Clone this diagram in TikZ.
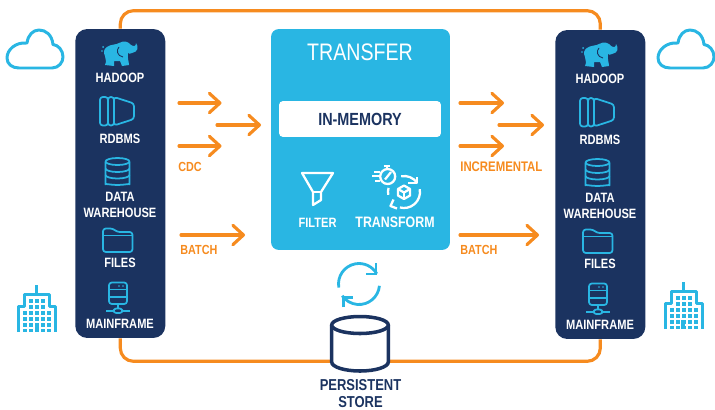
\documentclass[tikz,border=0pt]{standalone}
\usepackage{fontspec}
\setmainfont{Liberation Sans}[FakeStretch=0.82]
\usetikzlibrary{arrows.meta,positioning,calc}

\definecolor{flowOrange}{HTML}{F68B1F}
\definecolor{skyBlue}{HTML}{29B6E3}
\definecolor{panelNavy}{HTML}{1B3360}

\tikzset{
        panelbox/.style={fill=panelNavy,rounded corners=6.8pt,minimum width=1.8cm,minimum height=6.18cm,inner sep=0pt},
        collabel/.style={anchor=base,inner sep=0pt,text=white,font=\bfseries\fontsize{7.7}{8}\selectfont},
        flowlabel/.style={anchor=base west,inner sep=0pt,text=flowOrange,font=\bfseries\fontsize{7.5}{8}\selectfont},
        storelabel/.style={anchor=base,inner sep=0pt,text=panelNavy,font=\bfseries\fontsize{9}{10}\selectfont},
        flowarrow/.style={draw=flowOrange,line width=1.8pt,line cap=round,-{Straight Barb[length=6pt,width=11pt,round]}},
        looppath/.style={draw=flowOrange,line width=1.8pt,rounded corners=7.5pt},
        iconline/.style={draw=skyBlue,line width=1pt,line join=round,rounded corners=1.6pt},
        whiteline/.style={draw=white,line width=1.3pt,line join=round},
        sideline/.style={draw=skyBlue,line width=1.7pt,line join=round},
        syncline/.style={draw=skyBlue,line width=1.6pt}
}

\begin{document}
\begin{tikzpicture}[x=0.02cm,y=-0.02cm]
        \useasboundingbox (0,0) rectangle (715,409);

        % source and target columns
        \foreach \side/\dx/\dy in {l/0/0,r/480/1}{
                \begin{scope}[shift={(\dx,\dy)}]
                        \draw (120.3,183.5) node[panelbox] (panel\side) {};

                        % elephant
                        \fill[skyBlue] (107,47) .. controls (111,44) and (116,45) .. (119,43)
                                .. controls (124,40) and (129,42) .. (131,45) .. controls (134,47) and (136,46) .. (136,43)
                                .. controls (139,47) and (138,52) .. (132,53) .. controls (130,54) and (129,54) .. (128,53)
                                .. controls (127,57) and (129,62) .. (129,65) -- (122,66) -- (120,61) -- (114,61)
                                -- (114,66) -- (105,65) .. controls (107,61) and (105,59) .. (105,56)
                                .. controls (103,52) and (104,49) .. (107,47) -- cycle;
                        \draw[panelNavy,line width=.5pt] (119,47) .. controls (116,50) and (117,56) .. (123,57);
                        \fill[skyBlue] (103,47) circle (1) (102,51) circle (.8);
                        \draw (120,82.7) node[collabel] (hadoop\side) {HADOOP};

                        % rdbms
                        \draw[iconline] (100,97) rectangle (108,125.5);
                        \draw[iconline] (108,97) rectangle (114,125.5);
                        \draw[iconline] (114,97) -- (134,103.5) -- (134,119) -- (114,125.5) -- cycle;
                        \draw (120,143) node[collabel] (rdbms\side) {RDBMS};

                        % warehouse drum
                        \draw[iconline] (117.5,161.5) ellipse (12 and 3.5);
                        \draw[iconline] (105.5,161.5) -- (105.5,181.5) arc[start angle=180,end angle=0,x radius=12,y radius=3.5] -- (129.5,161.5);
                        \foreach \drumy in {168.5,175}{
                                \draw[iconline] (105.5,\drumy) arc[start angle=180,end angle=0,x radius=12,y radius=3.5];
                        }
                        \draw (120,201.7) node[collabel] (data\side) {DATA};
                        \draw (120,217.7) node[collabel] (warehouse\side) {WAREHOUSE};

                        % folder
                        \draw[iconline] (103,252) -- (103,228.5) -- (113,228.5) -- (117,232) -- (132.5,232) -- (132.5,252) -- cycle;
                        \draw[iconline] (103,235.5) -- (132.5,235.5);
                        \draw (120,267.7) node[collabel] (files\side) {FILES};

                        % server
                        \draw[iconline] (109,282.5) rectangle (127,304);
                        \draw[iconline] (109,289.5) -- (127,289.5);
                        \draw[iconline] (109,297) -- (127,297);
                        \fill[skyBlue] (119,286) circle (.9) (123,286) circle (.9);
                        \draw[iconline] (118,304) -- (118,308.5);
                        \draw[iconline] (113.5,308.5) rectangle (122.5,313);
                        \draw[iconline] (106,311) -- (113.5,311);
                        \draw[iconline] (122.5,311) -- (130,311);
                        \draw (120,328.7) node[collabel] (mainframe\side) {MAINFRAME};
                \end{scope}
        }

        % clouds
        \foreach \dx in {0,651}{
                \begin{scope}[shift={(\dx,0)}]
                        \draw[sideline] (19,68) -- (52,68) .. controls (59,68) and (63,62) .. (63,57)
                                .. controls (63,50) and (58,45) .. (53,44.5) .. controls (52,35) and (46,30) .. (39,30)
                                .. controls (33,30) and (28,35) .. (27,43) .. controls (15,42) and (7,50) .. (7,58)
                                .. controls (7,64) and (12,68) .. (19,68) -- cycle;
                \end{scope}
        }

        % buildings
        \foreach \dx/\dy in {0/0,646.5/-3}{
                \begin{scope}[shift={(\dx,\dy)}]
                        \draw[sideline] (18.5,332) -- (18.5,306) -- (24.5,306) -- (24.5,294.5) -- (49.5,294.5) -- (49.5,306) -- (55.5,306) -- (55.5,332);
                        \draw[sideline] (36.5,285) -- (36.5,294.5);
                        \foreach \wx in {29,35,41}{
                                \foreach \wy in {299,305}{
                                        \fill[skyBlue] (\wx,\wy) rectangle ++(4,4);
                                }
                        }
                        \foreach \wx in {23,29,35,41,47}{
                                \foreach \wy in {311,317,323,328.5}{
                                        \fill[skyBlue] (\wx,\wy) rectangle ++(4,3.5);
                                }
                        }
                        \fill[skyBlue] (34.5,323) rectangle (38.5,332);
                \end{scope}
        }

        % loop through the persistent store
        \draw[looppath] (panell.north) -- ++(0,-18) -| (panelr.north);
        \draw[looppath] (panell.south) -- ++(0,23) -| (panelr.south);

        % transfer block
        \draw (360.5,139.5) node[fill=skyBlue,rounded corners=4.5pt,minimum width=3.58cm,minimum height=4.42cm,inner sep=0pt] (transferbox) {};
        \draw (360,60) node[anchor=base,inner sep=0pt,text=white,font=\fontsize{13.6}{15}\selectfont] (transfertitle) {TRANSFER};
        \draw (360,119) node[fill=white,rounded corners=2.3pt,minimum width=3.24cm,minimum height=.72cm,inner sep=0pt,text=panelNavy,font=\bfseries\fontsize{10}{11}\selectfont] (inmemory) {IN-MEMORY};

        % funnel
        \draw[whiteline] (302,173) -- (333,173) -- (321,192) -- (321,200) -- (313,205) -- (313,192) -- cycle;
        \draw[whiteline] (313,192) -- (321,192);
        \draw (317.5,227.3) node[collabel] (filterlabel) {FILTER};

        % stopwatch
        \draw[whiteline] (387.7,176.5) circle (7.5);
        \draw[whiteline] (383.5,166) -- (390,166);
        \draw[whiteline] (386.7,166) -- (386.7,169);
        \draw[whiteline] (385,179.5) -- (391,172);
        \foreach \liney/\linex in {171.7/374,176/372,180.7/375}{
                \draw[whiteline] (\linex,\liney) -- (380,\liney);
        }
        % refresh ring
        \draw[whiteline] (404,192) ++(-100:16) arc[start angle=-100,end angle=-35,radius=16];
        \draw[whiteline] (404,192) ++(-10:16) arc[start angle=-10,end angle=105,radius=16];
        \draw[whiteline] (404,192) ++(170:16) arc[start angle=170,end angle=195,radius=16];
        \draw[whiteline] (408,183.3) -- (416.7,183.3) -- (416.7,176.7);
        \draw[whiteline] (393.5,199.5) -- (390.5,206) -- (397,208.5);
        % cube
        \draw[whiteline] (404,185.5) -- (410,189) -- (410,195.5) -- (404,199) -- (398,195.5) -- (398,189) -- cycle;
        \draw[whiteline] (398,189) -- (404,192.5) -- (410,189);
        \draw[whiteline] (404,192.5) -- (404,199);
        \draw (395,227.3) node[collabel,font=\bfseries\fontsize{8.6}{9}\selectfont] (transformlabel) {TRANSFORM};

        % flow arrows
        \foreach \flow/\xa/\xb/\yy in {cdca/179/221.5/103,cdcb/217/261/125,cdcc/179/221.5/146,batchl/181/245/235,
                        inca/460/504/103,incb/499/544/125,incc/460/504/146,batchr/460/539/235}{
                \coordinate (\flow s) at (\xa,\yy);
                \coordinate (\flow e) at (\xb,\yy);
                \draw[flowarrow] (\flow s) -- (\flow e);
        }
        \draw (178,171) node[flowlabel] (cdclabel) {CDC};
        \draw (180,254) node[flowlabel] (batchllabel) {BATCH};
        \draw (460,171) node[flowlabel,font=\bfseries\fontsize{7.9}{8}\selectfont] (inclabel) {INCREMENTAL};
        \draw (460,254) node[flowlabel] (batchrlabel) {BATCH};

        % sync ring
        \draw[syncline] (359,284) ++(-190:20.5) arc[start angle=-190,end angle=-30,radius=20.5];
        \draw[syncline] (359,284) ++(5:20.5) arc[start angle=5,end angle=145,radius=20.5];
        \draw[syncline] (366,274) -- (376,274) -- (376,263.3);
        \draw[syncline] (343.3,307.3) -- (343.3,297.3) -- (353.3,297.3);

        % persistent store
        \draw[panelNavy,fill=white,line width=2pt] (331.7,325) -- (331.7,362) arc[start angle=180,end angle=0,x radius=28.3,y radius=9] -- (388.3,325);
        \draw[panelNavy,fill=white,line width=2pt] (360,325) ellipse (28.3 and 8.5);
        \draw (360.5,390) node[storelabel] (persistent) {PERSISTENT};
        \draw (360.5,407.5) node[storelabel] (store) {STORE};
\end{tikzpicture}
\end{document}
